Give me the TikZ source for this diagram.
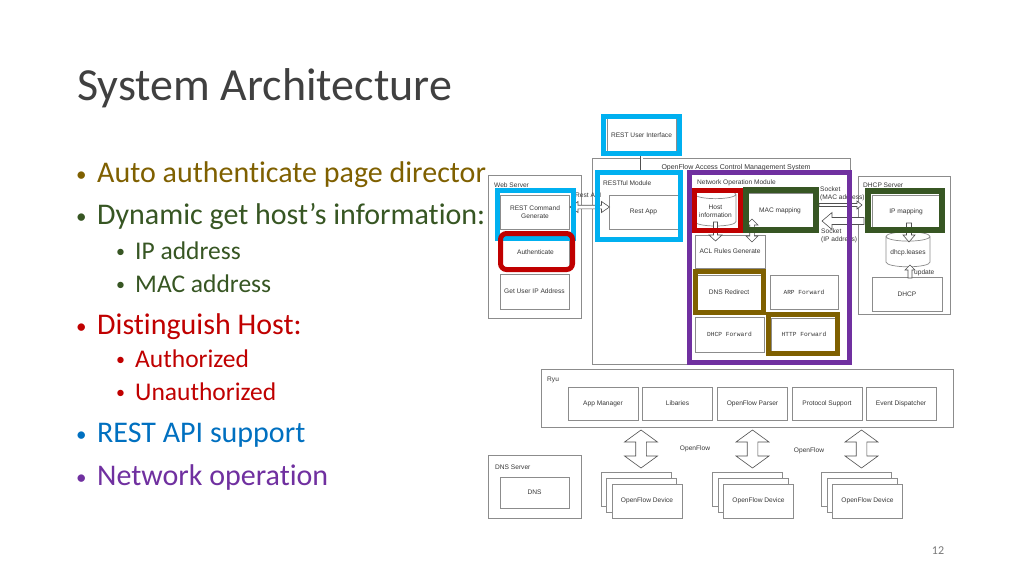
\documentclass[tikz,border=0pt]{standalone}
\usepackage{fontspec}
\usepackage{tikz}
\setmainfont[Ligatures=NoCommon]{Carlito}
\newfontfamily\archsans{Liberation Sans}
\newfontfamily\archmono{Liberation Mono}
\usetikzlibrary{calc}
\usetikzlibrary{shapes.geometric}
\definecolor{mcyan}{RGB}{0,176,240}
\definecolor{mred}{RGB}{192,0,0}
\definecolor{mgreen}{RGB}{55,86,35}
\definecolor{molive}{RGB}{127,96,0}
\definecolor{mpurple}{RGB}{112,48,160}
\definecolor{mblue}{RGB}{0,112,192}
\definecolor{titlegray}{RGB}{64,64,64}
\definecolor{boxgray}{RGB}{140,140,140}
\definecolor{archtext}{RGB}{55,55,55}
\definecolor{arrowgray}{RGB}{80,80,80}
\newcommand\mainbullet{\makebox[21pt][l]{\raisebox{1.5pt}{\fontsize{21}{21}\selectfont •}}}
\newcommand\subbullet{\makebox[19pt][l]{\raisebox{1.2pt}{\fontsize{18}{18}\selectfont •}}}
\tikzset{arw/.store in=\arw, arh/.store in=\arh, arl/.store in=\arl,
         arw=3pt, arh=8pt, arl=10pt}
\tikzset{box/.style = {draw=boxgray, fill=white, line width=0.7pt,
                       minimum width=69, minimum height=34, inner sep=1pt,
                       align=center, text=archtext,
                       font=\archsans\fontsize{6.6}{8}\selectfont}}
\tikzset{monobox/.style = {box, font=\archmono\fontsize{6.2}{8}\selectfont}}
\tikzset{db/.style = {box, cylinder, shape border rotate=90, aspect=0.25}}
\tikzset{container/.style = {draw=boxgray, fill=white, line width=0.7pt, inner sep=0}}
\tikzset{boxlabel/.style = {anchor=west, inner sep=0, text=archtext,
                            font=\archsans\fontsize{6.6}{8}\selectfont}}
\tikzset{hlframe/.style = {line width=5pt}}
\tikzset{item/.style = {anchor=base west, inner sep=0, font=\fontsize{30}{36}\selectfont}}
\tikzset{subitem/.style = {anchor=base west, inner sep=0, font=\fontsize{25.5}{30}\selectfont}}
\tikzset{dline/.style = {draw=arrowgray, double, double distance=2pt, line width=0.6pt}}
\tikzset{blockarrow/.style = {draw=arrowgray, fill=white, line width=0.6pt,
  to path={($(\tikztostart)!\arw!90:(\tikztotarget)$)
    -- ($(\tikztotarget)!\arl!(\tikztostart)!\arw!-90:(\tikztostart)$)
    -- ($(\tikztotarget)!\arl!(\tikztostart)!\arh!-90:(\tikztostart)$)
    -- (\tikztotarget)
    -- ($(\tikztotarget)!\arl!(\tikztostart)!\arh!90:(\tikztostart)$)
    -- ($(\tikztotarget)!\arl!(\tikztostart)!\arw!90:(\tikztostart)$)
    -- ($(\tikztostart)!\arw!-90:(\tikztotarget)$) -- cycle}}}
\tikzset{dblockarrow/.style = {draw=arrowgray, fill=white, line width=0.6pt,
  to path={($(\tikztostart)!\arl!(\tikztotarget)!\arw!90:(\tikztotarget)$)
    -- ($(\tikztostart)!\arl!(\tikztotarget)!\arh!90:(\tikztotarget)$)
    -- (\tikztostart)
    -- ($(\tikztostart)!\arl!(\tikztotarget)!\arh!-90:(\tikztotarget)$)
    -- ($(\tikztostart)!\arl!(\tikztotarget)!\arw!-90:(\tikztotarget)$)
    -- ($(\tikztotarget)!\arl!(\tikztostart)!\arw!90:(\tikztostart)$)
    -- ($(\tikztotarget)!\arl!(\tikztostart)!\arh!90:(\tikztostart)$)
    -- (\tikztotarget)
    -- ($(\tikztotarget)!\arl!(\tikztostart)!\arh!-90:(\tikztostart)$)
    -- ($(\tikztotarget)!\arl!(\tikztostart)!\arw!-90:(\tikztostart)$) -- cycle}}}

\begin{document}
\begin{tikzpicture}[x=1pt, y=-1pt]
  \fill [white] (0, 0) rectangle (1024, 576);
  \useasboundingbox (0, 0) rectangle (1024, 576);

  % slide text
  \node [anchor=base west, inner sep=0, text=titlegray, font=\fontsize{46}{50}\selectfont] (title) at (77, 100) {System Architecture};
  \node [item, text=molive] (itemauto) at (76, 182.5) {\mainbullet Auto authenticate page director};
  \node [item, text=mgreen] (itemhost) at (76, 224.5) {\mainbullet Dynamic get host’s information:};
  \node [subitem, text=mgreen] (itemip) at (116, 259) {\subbullet IP address};
  \node [subitem, text=mgreen] (itemmac) at (116, 292) {\subbullet MAC address};
  \node [item, text=mred] (itemdist) at (76, 334.5) {\mainbullet Distinguish Host:};
  \node [subitem, text=mred] (itemauthd) at (116, 367) {\subbullet Authorized};
  \node [subitem, text=mred] (itemunauth) at (116, 400) {\subbullet Unauthorized};
  \node [item, text=mblue] (itemrest) at (76, 442.5) {\mainbullet REST API support};
  \node [item, text=mpurple] (itemnet) at (76, 485.5) {\mainbullet Network operation};
  \node [anchor=base, inner sep=0, text=titlegray!70, font=\fontsize{12}{14}\selectfont] (pagenum) at (938, 554) {12};

  % containers
  \node [container, minimum width=93, minimum height=143] (websrv) at (534.5, 246.5) {};
  \node [container, minimum width=258, minimum height=206] (ofacm) at (721, 261) {};
  \node [container, minimum width=92, minimum height=138] (dhcpsrv) at (904, 245) {};
  \node [container, minimum width=412, minimum height=58] (ryu) at (747, 398) {};
  \node [container, minimum width=93, minimum height=63] (dnssrv) at (534.5, 486.5) {};
  \node [minimum width=83, minimum height=67, inner sep=0] (restmod) at (639, 206) {};
  \node [minimum width=160, minimum height=190, inner sep=0] (netop) at (769.5, 267.5) {};

  \node [boxlabel] (websrvlbl) at (494, 185) {Web Server};
  \node [boxlabel, anchor=center, font=\archsans\fontsize{7}{8}\selectfont] (ofacmlbl) at (736, 168) {OpenFlow Access Control Management System};
  \node [boxlabel] (restmodlbl) at (603, 183) {RESTful Module};
  \node [boxlabel] (netoplbl) at (697, 183) {Network Operation Module};
  \node [boxlabel] (dhcpsrvlbl) at (863, 185) {DHCP Server};
  \node [boxlabel] (ryulbl) at (547, 380) {Ryu};
  \node [boxlabel] (dnssrvlbl) at (495, 467) {DNS Server};
  \node [boxlabel] (apilbl) at (575, 195) {Rest API};
  \node [boxlabel, anchor=north west, align=left] (sockmac) at (820, 187) {Socket\\(MAC address)};
  \node [boxlabel, anchor=north west, align=left] (sockip) at (821, 229) {Socket\\(IP address)};
  \node [boxlabel] (updlbl) at (914, 273) {update};
  \node [boxlabel, anchor=center] (oflbla) at (695, 449) {OpenFlow};
  \node [boxlabel, anchor=center] (oflblb) at (809, 451) {OpenFlow};

  % boxes
  \node [box] (restui) at (641.5, 135) {REST User Interface};
  \node [box] (cmd) at (535, 212) {REST Command\\Generate};
  \node [box, minimum width=67, minimum height=32] (auth) at (535.5, 252) {Authenticate};
  \node [box, minimum height=35] (getip) at (534.5, 291.5) {Get User IP Address};
  \node [box] (restapp) at (643.5, 212) {Rest App};
  \node [db, minimum width=41, minimum height=36] (host) at (715.5, 211) {Host\\information};
  \node [box, minimum width=70, minimum height=35] (mac) at (780, 210.5) {MAC mapping};
  \node [box, minimum width=70, minimum height=33] (acl) at (730, 251.5) {ACL Rules Generate};
  \node [box, minimum width=68, minimum height=35] (dnsr) at (729, 292.5) {DNS Redirect};
  \node [monobox, minimum width=68, minimum height=34] (arp) at (804, 292) {ARP Forward};
  \node [monobox, minimum width=69, minimum height=35] (dhcpf) at (729.5, 334.5) {DHCP Forward};
  \node [monobox, minimum width=66, minimum height=33] (http) at (804, 334.5) {HTTP Forward};
  \node [box, minimum width=68, minimum height=33] (ipmap) at (906, 211.5) {IP mapping};
  \node [db, minimum width=44, minimum height=35] (leases) at (908, 252.5) {dhcp.leases};
  \node [box, minimum width=70, minimum height=34] (dhcp) at (907, 294) {DHCP};

  \node [box, minimum width=70, minimum height=33] (appmgr) at (603, 403.5) {App Manager};
  \node [box, minimum width=70, minimum height=33] (libs) at (677.5, 403.5) {Libaries};
  \node [box, minimum width=70, minimum height=33] (ofparser) at (752.5, 403.5) {OpenFlow Parser};
  \node [box, minimum width=70, minimum height=33] (protosup) at (827, 403.5) {Protocol Support};
  \node [box, minimum width=70, minimum height=33] (evdisp) at (901, 403.5) {Event Dispatcher};

  \node [box, minimum height=31] (dns) at (534.5, 492.5) {DNS};

  \node [box, minimum width=70] (devaback) at (636, 489) {};
  \node [box, minimum width=70] (devamid) at (641.5, 495) {};
  \node [box, minimum width=70] (deva) at (647, 501) {OpenFlow Device};
  \node [box, minimum width=70] (devbback) at (747.5, 489) {};
  \node [box, minimum width=70] (devbmid) at (753, 495) {};
  \node [box, minimum width=70] (devb) at (758.5, 501) {OpenFlow Device};
  \node [box, minimum width=70] (devcback) at (856.5, 489) {};
  \node [box, minimum width=70] (devcmid) at (862, 495) {};
  \node [box, minimum width=70] (devc) at (867.5, 501) {OpenFlow Device};

  % connectors
  \coordinate (apileft) at (570, 207);
  \coordinate (apiright) at (609.5, 207);
  \coordinate (hostout) at (715.5, 222);
  \coordinate (aclin) at (715.5, 241);
  \coordinate (macout) at (752, 219);
  \coordinate (aclmac) at (752, 242);
  \coordinate (sockmacl) at (819, 205);
  \coordinate (sockmacr) at (862, 205);
  \coordinate (sockipr) at (864, 221);
  \coordinate (sockipl) at (822, 221);
  \coordinate (ipmapout) at (909, 223);
  \coordinate (leasesin) at (909, 242);
  \coordinate (dhcpout) at (910, 278);
  \coordinate (leasesup) at (910, 265);
  \coordinate (ofatop) at (641, 430);
  \coordinate (ofabot) at (641, 468);
  \coordinate (ofbtop) at (752.5, 430);
  \coordinate (ofbbot) at (752.5, 468);
  \coordinate (ofctop) at (861.5, 430);
  \coordinate (ofcbot) at (861.5, 468);

  \draw [dline] (restui.south) -- (restui.south |- restmod.north);
  \draw [dblockarrow, arw=1.8pt, arh=5.5pt, arl=8pt] (apileft) to (apiright);
  \draw [blockarrow, arw=2pt, arh=6.5pt, arl=6pt] (hostout) to (aclin);
  \draw [dblockarrow, arw=2.3pt, arh=6pt, arl=6pt] (macout) to (aclmac);
  \draw [blockarrow, arw=1.5pt, arh=4pt, arl=5pt] (sockmacl) to (sockmacr);
  \draw [blockarrow, arw=3.5pt, arh=8.5pt, arl=10pt] (sockipr) to (sockipl);
  \draw [blockarrow, arw=2.5pt, arh=6pt, arl=7pt] (ipmapout) to (leasesin);
  \draw [blockarrow, arw=2pt, arh=5pt, arl=5pt] (dhcpout) to (leasesup);
  \draw [dblockarrow, arw=5.3pt, arh=16.5pt, arl=12pt] (ofatop) to (ofabot);
  \draw [dblockarrow, arw=5.3pt, arh=16.5pt, arl=12pt] (ofbtop) to (ofbbot);
  \draw [dblockarrow, arw=5.3pt, arh=16.5pt, arl=12pt] (ofctop) to (ofcbot);

  % highlight frames
  \draw [hlframe, mcyan] (497.5, 190.5) rectangle (573.5, 238);
  \draw [hlframe, mred, rounded corners=6] (500.5, 233.5) rectangle (572.5, 269.5);
  \draw [hlframe, mcyan] (603.5, 116.5) rectangle (679.5, 153.5);
  \draw [hlframe, mcyan] (restmod.north west) rectangle (restmod.south east);
  \draw [hlframe, mgreen, line width=6pt] (746, 190) rectangle (816, 230);
  \draw [hlframe, mred] (694.5, 190.5) rectangle (740.5, 230.5);
  \draw [hlframe, mgreen, line width=6pt] (868, 191) rectangle (942, 230);
  \draw [hlframe, molive] (695.5, 271) rectangle (763.5, 312.5);
  \draw [hlframe, molive] (768.5, 314.5) rectangle (837.5, 353.5);
  \draw [hlframe, mpurple] (netop.north west) rectangle (netop.south east);
\end{tikzpicture}
\end{document}
